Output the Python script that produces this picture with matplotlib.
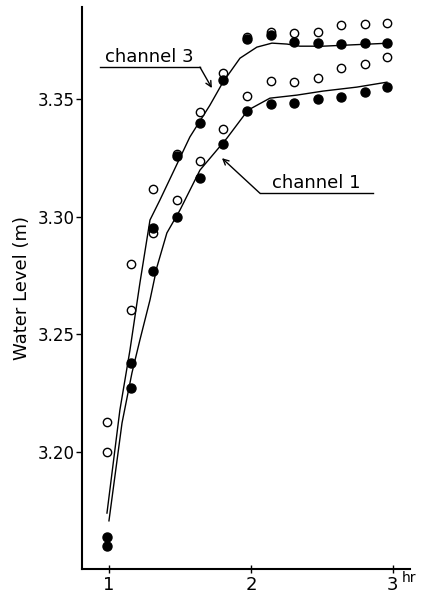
import matplotlib
matplotlib.use("Agg")
import matplotlib.pyplot as plt

# time (hr) of the observations
t = [0.986, 1.155, 1.31, 1.482, 1.641, 1.803, 1.972,
     2.141, 2.303, 2.472, 2.634, 2.803, 2.958]

# channel 3: filled and open points
ch3_filled = [3.1639, 3.2378, 3.2952, 3.3258, 3.3398, 3.3581, 3.3755,
              3.3772, 3.3742, 3.3738, 3.3734, 3.3738, 3.3738]
ch3_open = [3.2127, 3.2799, 3.2931, 3.3265, 3.3445, 3.3611, 3.3764,
            3.3785, 3.3781, 3.3785, 3.3815, 3.3819, 3.3823]

# channel 1: filled and open points
ch1_filled = [3.1600, 3.2272, 3.2769, 3.2998, 3.3164, 3.3309, 3.3449,
              3.3479, 3.3483, 3.3500, 3.3509, 3.3530, 3.3551]
ch1_open = [3.2000, 3.2603, 3.3118, 3.3071, 3.3236, 3.3372, 3.3513,
            3.3577, 3.3572, 3.3589, 3.3632, 3.3649, 3.3679]

# fitted curves
ch3_line_t = [0.986, 1.077, 1.148, 1.218, 1.289, 1.359, 1.570, 1.711,
              1.803, 1.923, 2.042, 2.148, 2.254, 2.345, 2.507, 2.979]
ch3_line_h = [3.174, 3.2178, 3.2433, 3.2718, 3.2986, 3.3071, 3.3339, 3.3474,
              3.3572, 3.3674, 3.3721, 3.3738, 3.3734, 3.3725, 3.3725, 3.3738]
ch1_line_t = [1.000, 1.092, 1.162, 1.218, 1.289, 1.338, 1.408, 1.500,
              1.641, 1.831, 1.979, 2.134, 2.324, 2.507, 2.746, 2.958]
ch1_line_h = [3.1707, 3.2123, 3.2336, 3.2476, 3.2646, 3.2786, 3.2931, 3.3028,
              3.3198, 3.3334, 3.3453, 3.3504, 3.3517, 3.3534, 3.3551, 3.3572]

xticks = [1, 2, 3]
yticks = [3.20, 3.25, 3.30, 3.35]

fig = plt.figure(figsize=(4.27, 5.95), dpi=100)
ax = fig.add_axes([0.192, 0.044, 0.768, 0.944])

ax.plot(ch3_line_t, ch3_line_h, color="black", lw=1.0)
ax.plot(ch1_line_t, ch1_line_h, color="black", lw=1.0)

for vals in (ch3_open, ch1_open):
    ax.plot(t, vals, "o", ms=6, mfc="white", mec="black", mew=1.0, ls="none")
for vals in (ch3_filled, ch1_filled):
    ax.plot(t, vals, "o", ms=6.5, color="black", ls="none")

# labels with leader lines
ax.text(0.972, 3.3657, "channel 3", fontsize=13)
ax.plot([0.937, 1.641], [3.3636, 3.3636], color="black", lw=1.0)
ax.annotate("", xy=(1.725, 3.3547), xytext=(1.641, 3.3636),
            arrowprops=dict(arrowstyle="->", lw=1.0, color="black",
                            shrinkA=0, shrinkB=0))
ax.text(2.148, 3.3122, "channel 1", fontsize=13)
ax.plot([2.063, 2.859], [3.3100, 3.3100], color="black", lw=1.0)
ax.annotate("", xy=(1.796, 3.3249), xytext=(2.063, 3.3100),
            arrowprops=dict(arrowstyle="->", lw=1.0, color="black",
                            shrinkA=0, shrinkB=0))

ax.set_xlim(0.81, 3.12)
ax.set_ylim(3.1503, 3.3891)
ax.set_xticks(xticks)
ax.set_xticklabels(["1", "2", "3"])
ax.set_yticks(yticks)
ax.set_yticklabels(["3.20", "3.25", "3.30", "3.35"])
ax.tick_params(axis="y", direction="out", length=4, width=1, labelsize=12, pad=1)
ax.tick_params(axis="x", direction="inout", length=6, width=1, labelsize=13, pad=2)
ax.spines["top"].set_visible(False)
ax.spines["right"].set_visible(False)
ax.spines["left"].set_linewidth(1.5)
ax.spines["bottom"].set_linewidth(1.5)

ax.set_ylabel("Water Level (m)", fontsize=13)
ax.yaxis.set_label_coords(-0.155, 0.50)
ax.text(3.065, 3.1445, "hr", fontsize=10, clip_on=False)

fig.savefig("out.png", dpi=100)
